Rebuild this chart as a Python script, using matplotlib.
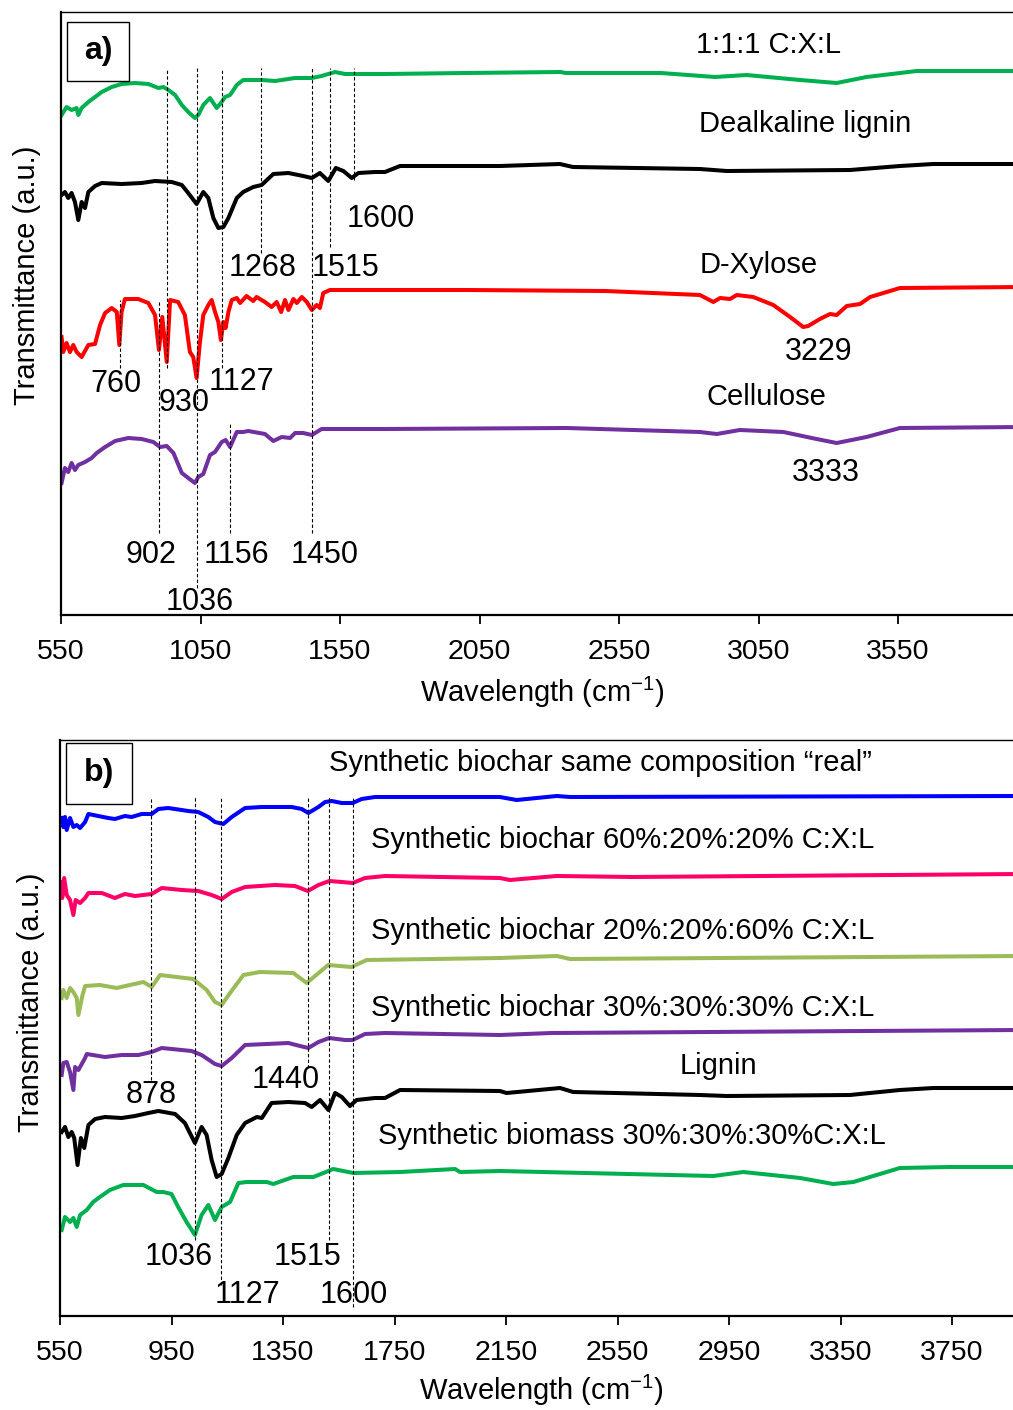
import numpy as np
import matplotlib
matplotlib.use("Agg")
from matplotlib import pyplot as plt
from matplotlib.patches import Rectangle

plt.rcParams['font.family'] = ['Liberation Sans', 'DejaVu Sans']
plt.rcParams['mathtext.fontset'] = 'custom'
plt.rcParams['mathtext.rm'] = 'Liberation Sans'
plt.rcParams['mathtext.it'] = 'Liberation Sans:italic'

# ---------------- panel a: reference compounds ----------------
# wavenumber (cm-1) and stacked transmittance (a.u.)
cxl_wn = [552, 570, 588, 606, 612, 624, 648, 672, 696, 732, 767, 815, 863, 899, 917, 935, 959,
          983, 1006, 1030, 1042, 1060, 1084, 1108, 1126, 1138, 1156, 1180, 1203, 1269, 1317,
          1365, 1389, 1449, 1484, 1532, 1568, 1604, 1711, 2000, 2340, 2360, 2700, 2894, 3007,
          3199, 3330, 3437, 3617, 4000]
cxl_t = [500, 508, 505, 507, 500, 507, 513, 518, 523, 528, 531, 532, 531, 527, 528, 525, 520,
         510, 503, 497, 500, 510, 517, 507, 513, 518, 520, 530, 535, 535, 534,
         536, 537, 537, 539, 543, 541, 541, 541, 542, 543, 542, 542, 538, 540,
         535, 532, 538, 544, 544]

dlig_wn = [552, 564, 576, 588, 600, 612, 624, 636, 648, 672, 696, 767, 839, 887, 947, 983, 1006,
           1036, 1060, 1078, 1096, 1114, 1132, 1150, 1180, 1203, 1239, 1269, 1311, 1365, 1418,
           1449, 1478, 1508, 1535, 1562, 1592, 1616, 1675, 1711, 1765, 2123, 2338, 2385, 2840,
           2936, 3378, 3557, 3676, 4000]
dlig_t = [420, 423, 417, 422, 413, 395, 413, 407, 423, 429, 432, 431, 432, 434, 433, 430, 422,
          411, 423, 417, 397, 387, 388, 397, 417, 423, 428, 430, 441, 442, 439,
          437, 442, 434, 447, 444, 437, 442, 443, 443, 449, 449, 451, 448, 446,
          444, 445, 449, 451, 451]

xyl_wn = [552, 558, 570, 582, 594, 606, 624, 648, 672, 690, 708, 732, 750, 759, 767, 779, 827,
          863, 887, 901, 913, 929, 941, 970, 994, 1012, 1024, 1036, 1048, 1060, 1078, 1090,
          1102, 1114, 1123, 1132, 1140, 1150, 1162, 1180, 1192, 1215, 1239, 1251, 1281, 1305,
          1323, 1339, 1353, 1365, 1383, 1395, 1413, 1431, 1449, 1466, 1478, 1490, 1514, 1711,
          2000, 2500, 2840, 2888, 2912, 2948, 2972, 3031, 3103, 3163, 3210, 3228, 3270, 3306,
          3330, 3366, 3414, 3450, 3557, 4000]
xyl_t = [278, 263, 272, 263, 270, 263, 258, 270, 271, 290, 302, 307, 303, 270, 303, 316, 316,
         312, 300, 265, 298, 253, 315, 313, 300, 263, 258, 237, 273, 300, 310, 315,
         303, 293, 275, 293, 287, 303, 315, 317, 312, 319, 314, 318, 313, 308,
         313, 303, 315, 305, 316, 312, 318, 313, 305, 310, 307, 322, 325, 325,
         325, 324, 320, 313, 317, 316, 320, 318, 310, 298, 288, 289, 296, 301,
         300, 309, 311, 318, 327, 328]

cell_wn = [552, 564, 576, 588, 600, 612, 636, 660, 678, 708, 744, 791, 839, 881, 905, 929, 953,
           983, 1006, 1030, 1042, 1060, 1084, 1102, 1126, 1140, 1156, 1180, 1203, 1221, 1281,
           1311, 1341, 1371, 1389, 1418, 1449, 1484, 1711, 2362, 2840, 2900, 2983, 3139, 3258,
           3330, 3437, 3557, 4000]
cell_t = [132, 147, 143, 152, 145, 150, 153, 157, 162, 168, 174, 177, 176, 173, 168, 169, 162,
          142, 137, 132, 138, 141, 160, 163, 173, 175, 168, 183, 183, 184, 181,
          174, 178, 177, 182, 182, 180, 186, 186, 187, 183, 181, 185, 183, 176,
          172, 178, 187, 188]

# ---------------- panel b: synthetic biochars ----------------
real_wn = [556, 562, 568, 574, 586, 598, 610, 622, 640, 652, 687, 723, 747, 783, 807, 843, 879,
           903, 938, 1010, 1046, 1082, 1106, 1136, 1166, 1214, 1274, 1381, 1417, 1441, 1477,
           1501, 1525, 1561, 1600, 1632, 1680, 1716, 2128, 2188, 2332, 2380, 4000]
real_t = [498, 489, 499, 486, 498, 489, 491, 488, 494, 502, 500, 498, 497, 500, 499, 502, 502,
          507, 508, 505, 504, 499, 494, 492, 499, 508, 509, 509, 507, 503, 509,
          514, 515, 513, 513, 517, 519, 519, 519, 516, 520, 519, 520]

c60_wn = [554, 558, 565, 574, 586, 598, 606, 622, 640, 652, 700, 747, 783, 819, 879, 915, 987,
          1046, 1094, 1130, 1166, 1214, 1321, 1393, 1439, 1477, 1516, 1561, 1600, 1644, 1716,
          2128, 2164, 2332, 2606, 4000]
c60_t = [434, 418, 438, 421, 416, 401, 416, 413, 418, 423, 423, 418, 422, 420, 422, 428, 426,
         425, 421, 417, 424, 429, 431, 430, 425, 431, 435, 434, 433, 438, 440,
         438, 436, 440, 439, 442]

l60_wn = [556, 562, 574, 586, 598, 610, 616, 630, 640, 693, 753, 801, 849, 879, 909, 1028, 1076,
          1106, 1130, 1160, 1208, 1267, 1387, 1435, 1512, 1596, 1650, 2128, 2332, 2380, 4000]
l60_t = [318, 326, 318, 328, 324, 318, 301, 320, 330, 331, 328, 331, 334, 329, 341, 337, 326,
         314, 311, 323, 341, 344, 343, 333, 351, 349, 356, 358, 360, 357, 360]

eq_wn = [556, 562, 574, 586, 598, 604, 616, 640, 646, 711, 771, 831, 879, 915, 1022, 1058, 1106,
         1130, 1166, 1214, 1369, 1411, 1441, 1477, 1516, 1572, 1600, 1644, 1716, 2128, 2313, 4000]
eq_t = [241, 253, 254, 244, 226, 249, 246, 258, 262, 259, 261, 261, 264, 268, 265, 261, 252,
        250, 258, 271, 273, 270, 268, 274, 278, 276, 276, 282, 283, 281, 283, 286]

lig_wn = [556, 568, 580, 592, 601, 613, 625, 637, 652, 676, 711, 771, 819, 867, 903, 963, 998,
          1034, 1058, 1076, 1094, 1112, 1130, 1154, 1184, 1214, 1256, 1274, 1309, 1369, 1429,
          1453, 1483, 1513, 1537, 1561, 1590, 1614, 1680, 1716, 1770, 2128, 2152, 2344, 2391,
          2846, 2942, 3384, 3563, 3683, 4000]
lig_t = [184, 189, 179, 184, 178, 151, 178, 168, 191, 197, 199, 198, 200, 203, 205, 202, 193,
         173, 189, 181, 156, 139, 142, 158, 181, 193, 199, 198, 213, 214, 213,
         209, 216, 206, 223, 219, 210, 216, 218, 218, 226, 225, 223, 228, 224,
         221, 220, 221, 226, 228, 228]

bio_wn = [556, 568, 586, 598, 610, 622, 646, 669, 693, 729, 777, 849, 897, 920, 950, 974, 1004,
          1034, 1058, 1082, 1106, 1130, 1160, 1190, 1220, 1292, 1315, 1387, 1459, 1495, 1530,
          1602, 1770, 1967, 1985, 2128, 2894, 3001, 3205, 3324, 3396, 3563, 3743, 4000]
bio_t = [86, 99, 94, 98, 89, 101, 106, 114, 119, 126, 131, 131, 124, 124, 122, 109, 94,
         81, 101, 111, 96, 109, 114, 133, 134, 134, 132, 139, 139, 143, 147,
         143, 144, 147, 144, 145, 140, 144, 138, 132, 134, 148, 149, 149]

fig = plt.figure(figsize=(10.13, 14.10), dpi=100)
W, H = 1013.0, 1410.0

ax_a = fig.add_axes([61 / W, (H - 615) / H, 962.6 / W, 603 / H])
ax_b = fig.add_axes([60 / W, (H - 1316) / H, 961.7 / W, 576 / H])

lw = 2.9
ax_a.plot(cxl_wn, cxl_t, color='#00B050', lw=lw)
ax_a.plot(dlig_wn, dlig_t, color='black', lw=lw)
ax_a.plot(xyl_wn, xyl_t, color='#FF0000', lw=lw)
ax_a.plot(cell_wn, cell_t, color='#7030A0', lw=lw)

ax_b.plot(real_wn, real_t, color='#0000FF', lw=lw)
ax_b.plot(c60_wn, c60_t, color='#FF0066', lw=lw)
ax_b.plot(l60_wn, l60_t, color='#9BBB59', lw=lw)
ax_b.plot(eq_wn, eq_t, color='#7030A0', lw=lw)
ax_b.plot(lig_wn, lig_t, color='black', lw=lw)
ax_b.plot(bio_wn, bio_t, color='#00B050', lw=lw)

# peak markers: (wavenumber, lower end, upper end)
peaks_a = [(760, 247, 315), (902, 82, 315), (930, 247, 547), (1036, 27, 547),
           (1127, 247, 547), (1156, 82, 192), (1268, 362, 547), (1450, 82, 547),
           (1515, 368, 547), (1600, 435, 547)]
peaks_b = [(878, 236, 519), (1036, 76, 519), (1127, 31, 519), (1440, 248, 519),
           (1515, 76, 519), (1600, 9, 519)]
for ax, peaks in ((ax_a, peaks_a), (ax_b, peaks_b)):
    for wn, y0, y1 in peaks:
        ax.plot([wn, wn], [y0, y1], color='black', lw=0.8, ls=(0, (3, 2)))

# series names and peak labels
labels_a = [("1:1:1 C:X:L", 3084, 570), ("Dealkaline lignin", 3217, 491),
            ("D-Xylose", 3052, 350), ("Cellulose", 3080, 218)]
nums_a = [("3229", 3267, 263), ("3333", 3290, 142), ("1600", 1697, 396),
          ("1268", 1274, 347), ("1515", 1571, 347), ("760", 747, 231),
          ("930", 991, 212), ("1127", 1195, 233), ("902", 873, 60),
          ("1156", 1177, 60), ("1450", 1494, 60), ("1036", 1048, 13)]
labels_b = [("Synthetic biochar same composition \u201creal\u201d", 2487, 553),
            ("Synthetic biochar 60%:20%:20% C:X:L", 2568, 476),
            ("Synthetic biochar 20%:20%:60% C:X:L", 2568, 385),
            ("Synthetic biochar 30%:30%:30% C:X:L", 2568, 308),
            ("Lignin", 2911, 250),
            ("Synthetic biomass 30%:30%:30%C:X:L", 2600, 180)]
nums_b = [("878", 876, 221), ("1440", 1361, 236), ("1036", 977, 59),
          ("1515", 1438, 59), ("1127", 1223, 21), ("1600", 1605, 21)]

for ax, labels, nums in ((ax_a, labels_a, nums_a), (ax_b, labels_b, nums_b)):
    for txt, x, y in labels:
        ax.text(x, y, txt, fontsize=21, ha='center', va='center')
    for txt, x, y in nums:
        ax.text(x, y, txt, fontsize=22, ha='center', va='center')

for ax, ticks, ymax in ((ax_a, np.arange(550, 4000, 500), 603),
                        (ax_b, np.arange(550, 4000, 400), 576)):
    ax.set_xlim(550, 4000)
    ax.set_ylim(0, ymax)
    ax.set_xticks(ticks)
    ax.set_yticks([])
    ax.tick_params(axis='x', direction='out', length=6.5, width=1.3, labelsize=20.5, pad=10.5)
    ax.spines['left'].set_linewidth(1.6)
    ax.spines['bottom'].set_linewidth(1.6)
    ax.spines['top'].set_linewidth(1.0)
    ax.spines['right'].set_visible(False)

# panel tags
for ax, tag, box in ((ax_a, "a)", (67, 22, 129, 81, 615, 603, 61, 962.6)),
                     (ax_b, "b)", (66, 743, 132, 804, 1316, 576, 60, 961.7))):
    x0, t0, x1, t1, bottom, h, left, w = box
    rx = (x0 - left) / w
    ry = (bottom - t1) / h
    ax.add_patch(Rectangle((rx, ry), (x1 - x0) / w, (t1 - t0) / h, transform=ax.transAxes,
                           facecolor='white', edgecolor='black', lw=1.0, zorder=5))
    ax.text(rx + (x1 - x0) / w / 2, ry + (t1 - t0) / h / 2, tag, transform=ax.transAxes,
            fontsize=23, fontweight='bold', ha='center', va='center', zorder=6)

# axis titles
for cx, cy in ((542, 692), (541, 1390)):
    fig.text(cx / W, 1 - cy / H, "Wavelength (cm$^{-1}$)", fontsize=21, ha='center', va='center')
for cx, cy in ((27, 275), (31, 1002)):
    fig.text(cx / W, 1 - cy / H, "Transmittance (a.u.)", fontsize=21, ha='center', va='center',
             rotation=90)

fig.savefig("out.png", dpi=100)
